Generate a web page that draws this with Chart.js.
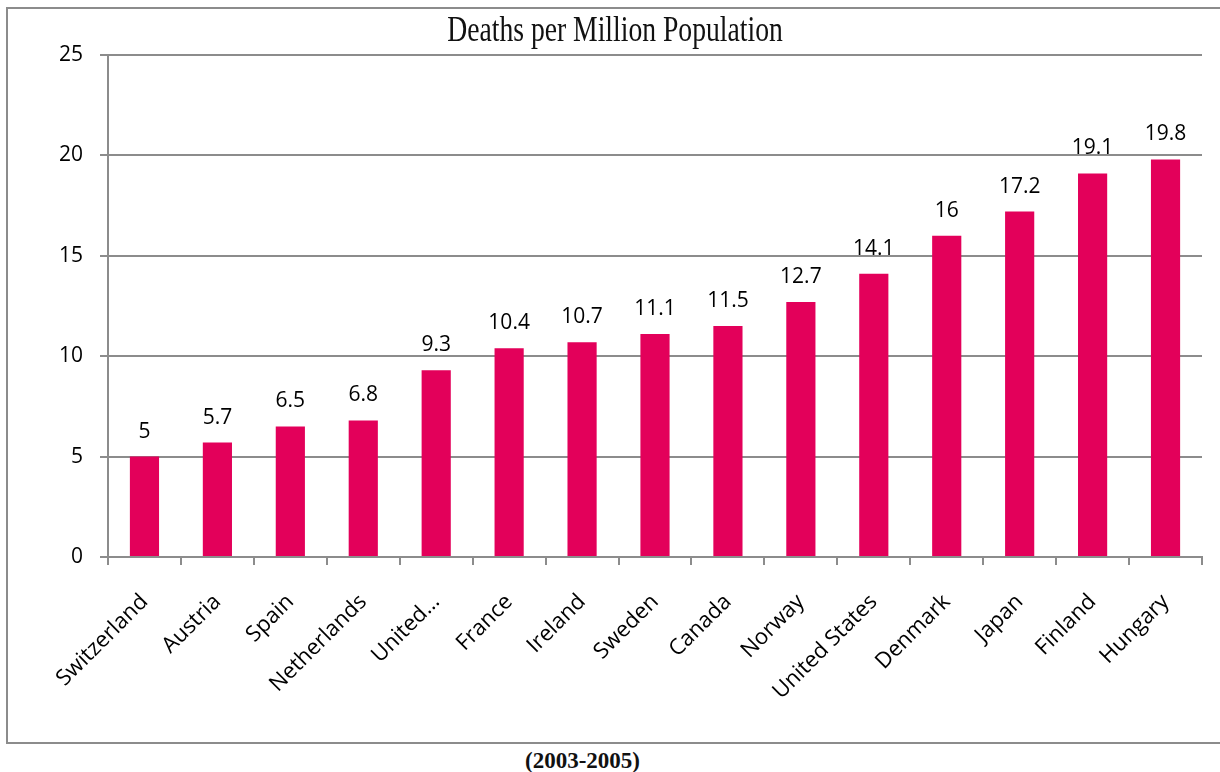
<!DOCTYPE html>
<html>
<head>
<meta charset="utf-8">
<script src="https://cdn.jsdelivr.net/npm/chart.js@4"></script>
<style>
  html, body { margin: 0; padding: 0; background: #fff; overflow: hidden; }
  body { width: 1220px; height: 772px; position: relative; }
  #frame {
    position: absolute; left: 6px; top: 7px; width: 1240px; height: 737px;
    border: 2px solid #8c8c8c; box-sizing: border-box;
  }
  #frame canvas { display: block; }
  #period {
    position: absolute; left: 0; width: 1165px; top: 748px;
    text-align: center; font: bold 23px "Liberation Serif", serif; color: #111;
  }
</style>
</head>
<body>
<div id="frame"><canvas id="deathsChart" width="1214" height="733"></canvas></div>
<div id="period">(2003-2005)</div>
<script>
const countries = ['Switzerland', 'Austria', 'Spain', 'Netherlands', 'United…', 'France', 'Ireland',
  'Sweden', 'Canada', 'Norway', 'United States', 'Denmark', 'Japan', 'Finland', 'Hungary'];
const deathsPerMillion = [5, 5.7, 6.5, 6.8, 9.3, 10.4, 10.7, 11.1, 11.5, 12.7, 14.1, 16, 17.2, 19.1, 19.8];
const yTicks = [0, 5, 10, 15, 20, 25];
const chartTitle = 'Deaths per Million Population';

const GRID = '#8c8c8c';
const BAR = '#e3005a';

// narrow serif heading, squeezed horizontally like Garamond
const titlePlugin = {
  id: 'narrowTitle',
  afterDraw(chart) {
    const ctx = chart.ctx;
    ctx.save();
    ctx.font = '35px "Liberation Serif", serif';
    ctx.fillStyle = '#111';
    ctx.textAlign = 'center';
    ctx.textBaseline = 'alphabetic';
    ctx.translate(607, 32);
    ctx.scale(0.79, 1);
    ctx.fillText(chartTitle, 0, 0);
    ctx.restore();
  }
};

// value printed above each bar
const valueLabels = {
  id: 'valueLabels',
  afterDatasetsDraw(chart) {
    const ctx = chart.ctx;
    const meta = chart.getDatasetMeta(0);
    ctx.save();
    ctx.font = '21px "Open Sans", sans-serif';
    ctx.fillStyle = '#000';
    ctx.textAlign = 'center';
    ctx.textBaseline = 'alphabetic';
    meta.data.forEach((bar, i) => {
      ctx.fillText(String(deathsPerMillion[i]), bar.x, bar.y - 19);
    });
    ctx.restore();
  }
};

new Chart(document.getElementById('deathsChart'), {
  type: 'bar',
  data: {
    labels: countries,
    datasets: [{
      data: deathsPerMillion,
      backgroundColor: BAR,
      barPercentage: 0.4,
      categoryPercentage: 1
    }]
  },
  options: {
    responsive: false,
    animation: false,
    layout: { padding: { top: 46, right: 20, left: 0, bottom: 0 } },
    plugins: {
      legend: { display: false },
      tooltip: { enabled: false },
      title: { display: false }
    },
    scales: {
      x: {
        offset: true,
        grid: { display: true, drawOnChartArea: false, drawTicks: true, tickLength: 8, color: GRID, lineWidth: 2, offset: true },
        border: { display: true, color: GRID, width: 2 },
        ticks: {
          color: '#000', minRotation: 45, maxRotation: 45, autoSkip: false, padding: 24,
          font: { family: 'Open Sans', size: 22 }
        },
        afterFit(scale) { scale.height = 185; }
      },
      y: {
        min: 0, max: 25,
        afterBuildTicks(scale) { scale.ticks = yTicks.map(v => ({ value: v })); },
        grid: { color: GRID, lineWidth: 2, tickLength: 8 },
        border: { display: true, color: GRID, width: 2 },
        ticks: { color: '#000', padding: 17, font: { family: 'Open Sans', size: 21 } },
        afterFit(scale) { scale.width = 100; }
      }
    }
  },
  plugins: [valueLabels, titlePlugin]
});
</script>
</body>
</html>
